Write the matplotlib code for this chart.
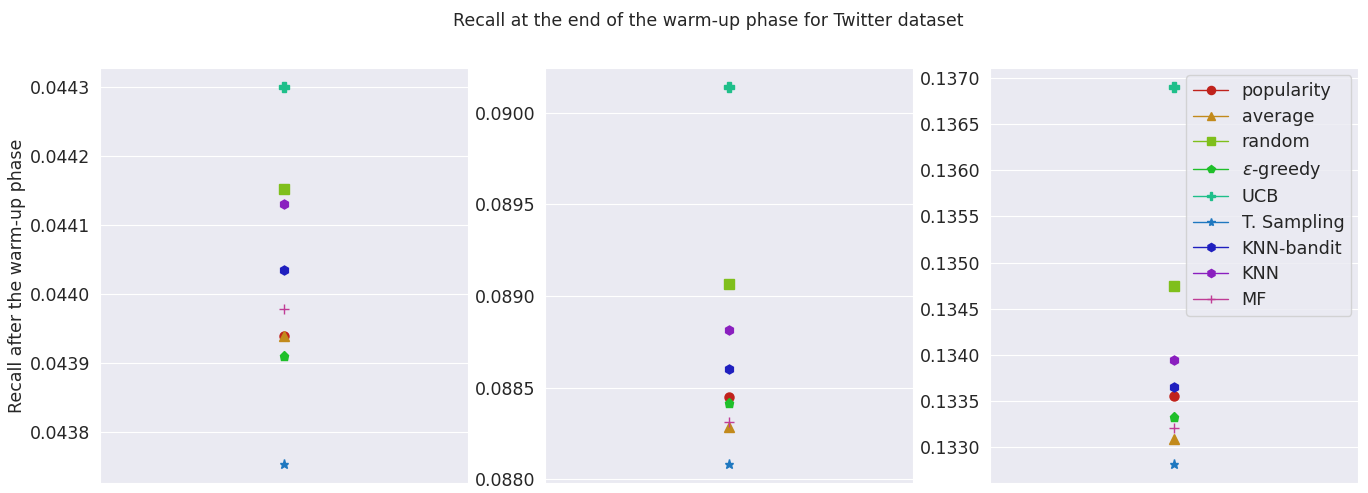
import matplotlib
matplotlib.use("Agg")
import matplotlib.pyplot as plt
import seaborn as sns

sns.set_style("darkgrid")
plt.rcParams['font.family'] = ['DejaVu Sans']

methods = ['popularity', 'average', 'random', r'$\epsilon$-greedy', 'UCB',
           'T. Sampling', 'KNN-bandit', 'KNN', 'MF']
markers = ['o', '^', 's', 'p', 'P', '*', 'h', 'h', '+']
colors = ['#c0221c', '#c28a1c', '#7fbf1c', '#1fbf2a', '#1fbf8a',
          '#1f78c0', '#1f1fbf', '#8a1fbf', '#c03c96']

# recall per method, one list per panel
recall_1 = [0.043940, 0.043940, 0.044153, 0.043911, 0.044300,
            0.043754, 0.044035, 0.044130, 0.043979]
recall_2 = [0.088451, 0.088283, 0.089065, 0.088418, 0.090141,
            0.088082, 0.088603, 0.088815, 0.088310]
recall_3 = [0.133554, 0.133091, 0.134748, 0.133328, 0.136903,
            0.132817, 0.133651, 0.133946, 0.133210]

fig, axes = plt.subplots(1, 3, figsize=(13.68, 4.93), dpi=100)
fig.subplots_adjust(left=0.073, right=0.993, top=0.862, bottom=0.02, wspace=0.21)

for ax, vals in zip(axes, [recall_1, recall_2, recall_3]):
    for m, v, mk, c in zip(methods, vals, markers, colors):
        ax.plot([0], [v], marker=mk, color=c, linewidth=1, markersize=6.5, label=m)
    ax.set_xticks([])
    ax.tick_params(axis='y', labelsize=12.5)

axes[0].yaxis.set_major_locator(plt.MultipleLocator(0.0001))
axes[0].yaxis.set_major_formatter(plt.FormatStrFormatter('%.4f'))
axes[1].yaxis.set_major_locator(plt.MultipleLocator(0.0005))
axes[1].yaxis.set_major_formatter(plt.FormatStrFormatter('%.4f'))
axes[2].yaxis.set_major_locator(plt.MultipleLocator(0.0005))
axes[2].yaxis.set_major_formatter(plt.FormatStrFormatter('%.4f'))

axes[0].set_ylabel('Recall after the warm-up phase', fontsize=12.5)
axes[0].yaxis.set_label_coords(-0.2, 0.5)
axes[2].legend(loc='upper right', fontsize=12.7, facecolor='#eaeaf2',
               borderaxespad=0.4, handlelength=2.0, labelspacing=0.43,
               handletextpad=0.75, borderpad=0.4, markerscale=0.9)
fig.suptitle('Recall at the end of the warm-up phase for Twitter dataset',
             fontsize=12.5, x=0.518, y=0.975)

plt.savefig('out.png')
